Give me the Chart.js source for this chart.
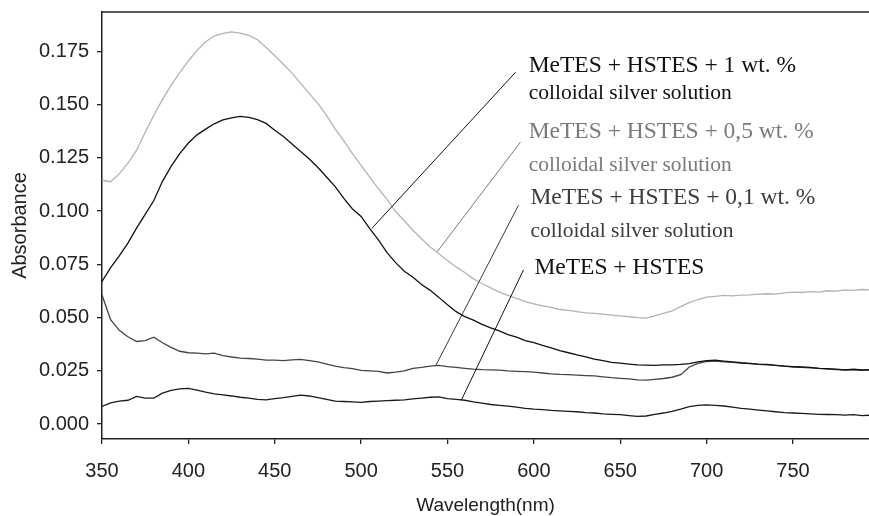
<!DOCTYPE html>
<html>
<head>
<meta charset="utf-8">
<script src="https://cdn.jsdelivr.net/npm/chart.js@4.4.1/dist/chart.umd.min.js"></script>
<style>
  html, body { margin: 0; padding: 0; background: #fff; }
</style>
</head>
<body>
<canvas id="chart" width="869" height="516"></canvas>
<script>
// wavelength (nm), read every 5 nm
const wavelength = [
  350, 355, 360, 365, 370, 375, 380, 385, 390, 395,
  400, 405, 410, 415, 420, 425, 430, 435, 440, 445,
  450, 455, 460, 465, 470, 475, 480, 485, 490, 495,
  500, 505, 510, 515, 520, 525, 530, 535, 540, 545,
  550, 555, 560, 565, 570, 575, 580, 585, 590, 595,
  600, 605, 610, 615, 620, 625, 630, 635, 640, 645,
  650, 655, 660, 665, 670, 675, 680, 685, 690, 695,
  700, 705, 710, 715, 720, 725, 730, 735, 740, 745,
  750, 755, 760, 765, 770, 775, 780, 785, 790, 795
];

// MeTES + HSTES + 0,5 wt. % (light grey curve)
const silver05 = [
  0.1145, 0.1138, 0.1175, 0.1225, 0.1285, 0.1370, 0.1450, 0.1525, 0.1590, 0.1650,
  0.1705, 0.1755, 0.1795, 0.1822, 0.1835, 0.1842, 0.1836, 0.1825, 0.1805, 0.1768,
  0.1730, 0.1690, 0.1648, 0.1600, 0.1552, 0.1505, 0.1450, 0.1385, 0.1330, 0.1270,
  0.1215, 0.1160, 0.1105, 0.1055, 0.0998, 0.0955, 0.0910, 0.0870, 0.0832, 0.0800,
  0.0768, 0.0738, 0.0712, 0.0682, 0.0660, 0.0640, 0.0620, 0.0604, 0.0590, 0.0575,
  0.0565, 0.0555, 0.0548, 0.0538, 0.0534, 0.0528, 0.0522, 0.0520, 0.0516, 0.0512,
  0.0508, 0.0504, 0.0500, 0.0498, 0.0508, 0.0520, 0.0532, 0.0552, 0.0570, 0.0585,
  0.0596, 0.0600, 0.0604, 0.0602, 0.0606, 0.0607, 0.0610, 0.0612, 0.0610, 0.0616,
  0.0620, 0.0618, 0.0622, 0.0620, 0.0626, 0.0624, 0.0630, 0.0628, 0.0632, 0.0630
];

// MeTES + HSTES + 1 wt. % (black peak curve)
const silver1 = [
  0.0670, 0.0735, 0.0790, 0.0850, 0.0920, 0.0985, 0.1050, 0.1140, 0.1210, 0.1270,
  0.1320, 0.1358, 0.1385, 0.1410, 0.1428, 0.1438, 0.1445, 0.1440, 0.1430, 0.1412,
  0.1380, 0.1350, 0.1315, 0.1280, 0.1245, 0.1205, 0.1160, 0.1115, 0.1060, 0.1010,
  0.0975, 0.0918, 0.0865, 0.0805, 0.0758, 0.0718, 0.0690, 0.0655, 0.0628, 0.0595,
  0.0560, 0.0528, 0.0505, 0.0488, 0.0468, 0.0452, 0.0438, 0.0420, 0.0408, 0.0392,
  0.0382, 0.0370, 0.0358, 0.0345, 0.0335, 0.0325, 0.0316, 0.0305, 0.0298, 0.0290,
  0.0286, 0.0282, 0.0278, 0.0277, 0.0276, 0.0278, 0.0278, 0.0280, 0.0284, 0.0292,
  0.0298, 0.0300, 0.0296, 0.0292, 0.0288, 0.0285, 0.0282, 0.0280, 0.0276, 0.0272,
  0.0270, 0.0268, 0.0266, 0.0262, 0.0260, 0.0258, 0.0255, 0.0258, 0.0254, 0.0256
];

// MeTES + HSTES + 0,1 wt. % (dark grey curve)
const silver01 = [
  0.0606, 0.0490, 0.0440, 0.0410, 0.0388, 0.0392, 0.0408, 0.0382, 0.0360, 0.0342,
  0.0335, 0.0333, 0.0330, 0.0333, 0.0322, 0.0315, 0.0310, 0.0308, 0.0305, 0.0300,
  0.0300, 0.0298, 0.0302, 0.0304, 0.0298, 0.0292, 0.0282, 0.0272, 0.0265, 0.0260,
  0.0252, 0.0250, 0.0248, 0.0240, 0.0244, 0.0250, 0.0262, 0.0266, 0.0272, 0.0276,
  0.0270, 0.0266, 0.0262, 0.0258, 0.0256, 0.0255, 0.0253, 0.0250, 0.0248, 0.0246,
  0.0244, 0.0240, 0.0236, 0.0233, 0.0232, 0.0230, 0.0228, 0.0226, 0.0222, 0.0218,
  0.0215, 0.0212, 0.0208, 0.0206, 0.0210, 0.0214, 0.0220, 0.0232, 0.0268, 0.0285,
  0.0294, 0.0296, 0.0292, 0.0290, 0.0286, 0.0284, 0.0280, 0.0278, 0.0276, 0.0272,
  0.0268, 0.0266, 0.0264, 0.0262, 0.0258, 0.0256, 0.0254, 0.0255, 0.0252, 0.0254
];

// MeTES + HSTES (bottom curve)
const base = [
  0.0083, 0.0100, 0.0108, 0.0112, 0.0130, 0.0122, 0.0122, 0.0145, 0.0158, 0.0165,
  0.0168, 0.0160, 0.0150, 0.0142, 0.0137, 0.0132, 0.0126, 0.0122, 0.0116, 0.0114,
  0.0120, 0.0124, 0.0130, 0.0136, 0.0132, 0.0124, 0.0116, 0.0108, 0.0106, 0.0104,
  0.0102, 0.0106, 0.0108, 0.0110, 0.0112, 0.0114, 0.0118, 0.0122, 0.0126, 0.0128,
  0.0120, 0.0116, 0.0112, 0.0104, 0.0098, 0.0092, 0.0088, 0.0084, 0.0080, 0.0074,
  0.0070, 0.0068, 0.0064, 0.0062, 0.0060, 0.0058, 0.0054, 0.0052, 0.0048, 0.0046,
  0.0044, 0.0040, 0.0036, 0.0038, 0.0046, 0.0052, 0.0060, 0.0070, 0.0082, 0.0088,
  0.0090, 0.0088, 0.0085, 0.0080, 0.0074, 0.0070, 0.0066, 0.0062, 0.0058, 0.0054,
  0.0052, 0.0050, 0.0048, 0.0046, 0.0045, 0.0044, 0.0042, 0.0044, 0.0040, 0.0042
];

// labels written on the plot, with leader line to their curve (data units)
const notes = [
  { lines: ["MeTES + HSTES + 1 wt. %", "colloidal silver solution"], at: [597, 0.1652, 0.1525],
    color: "#111", from: [589.4, 0.1652], to: [506.2, 0.0919] },
  { lines: ["MeTES + HSTES + 0,5 wt. %", "colloidal silver solution"], at: [597, 0.1342, 0.1187],
    color: "#7a7a7a", from: [592.3, 0.1325], to: [544.1, 0.0810] },
  { lines: ["MeTES + HSTES + 0,1 wt. %", "colloidal silver solution"], at: [598, 0.1033, 0.0878],
    color: "#3c3c3c", from: [591.1, 0.1028], to: [543.1, 0.0273] },
  { lines: ["MeTES + HSTES"], at: [600.3, 0.0704],
    color: "#111", from: [594, 0.0724], to: [558.1, 0.0114] }
];

const pts = arr => wavelength.map((w, i) => ({ x: w, y: arr[i] }));

const axisFont = { family: "'Liberation Sans', Arial, sans-serif", size: 20, lineHeight: 1 };

const frameAndNotes = {
  id: "frameAndNotes",
  afterDatasetsDraw(chart) {
    const { ctx, chartArea, scales } = chart;
    const sx = scales.x, sy = scales.y;
    ctx.save();
    // top border of plot frame
    ctx.strokeStyle = "#222";
    ctx.lineWidth = 1.5;
    ctx.beginPath();
    ctx.moveTo(chartArea.left, chartArea.top);
    ctx.lineTo(chartArea.right, chartArea.top);
    ctx.stroke();

    notes.forEach(n => {
      ctx.strokeStyle = n.color;
      ctx.lineWidth = 1;
      ctx.beginPath();
      ctx.moveTo(sx.getPixelForValue(n.from[0]), sy.getPixelForValue(n.from[1]));
      ctx.lineTo(sx.getPixelForValue(n.to[0]), sy.getPixelForValue(n.to[1]));
      ctx.stroke();

      ctx.fillStyle = n.color;
      ctx.textBaseline = "alphabetic";
      ctx.textAlign = "left";
      n.lines.forEach((t, i) => {
        ctx.font = (i === 0 ? "23.5px" : "21.5px") + " 'Liberation Serif', 'Times New Roman', serif";
        ctx.fillText(t, sx.getPixelForValue(n.at[0]), sy.getPixelForValue(n.at[i + 1]));
      });
    });
    ctx.restore();
  }
};

new Chart(document.getElementById("chart"), {
  type: "line",
  data: {
    datasets: [
      { label: "MeTES + HSTES + 0,5 wt. %", data: pts(silver05), borderColor: "#b3b3b3" },
      { label: "MeTES + HSTES + 1 wt. %", data: pts(silver1), borderColor: "#111" },
      { label: "MeTES + HSTES + 0,1 wt. %", data: pts(silver01), borderColor: "#444" },
      { label: "MeTES + HSTES", data: pts(base), borderColor: "#1a1a1a" }
    ]
  },
  options: {
    responsive: false,
    animation: false,
    layout: { padding: { top: 12, right: 0, left: 0, bottom: 0 } },
    elements: {
      line: { borderWidth: 1.3, tension: 0 },
      point: { radius: 0 }
    },
    plugins: {
      legend: { display: false },
      tooltip: { enabled: false }
    },
    scales: {
      x: {
        type: "linear",
        min: 350,
        max: 794,
        afterBuildTicks: s => { s.ticks = s.ticks.filter(t => t.value % 50 === 0 && t.value >= 350 && t.value <= 794); },
        afterFit: s => { s.height = 77; s.paddingLeft = 0; s.paddingRight = 0; },
        ticks: { stepSize: 50, includeBounds: false, color: "#222", font: axisFont, padding: 17, maxRotation: 0 },
        grid: { drawOnChartArea: false, tickLength: 5, color: "#222", lineWidth: 1.3 },
        border: { color: "#222", width: 1.5 },
        title: {
          display: true, text: "Wavelength(nm)", color: "#222",
          font: { family: "'Liberation Sans', Arial, sans-serif", size: 19, lineHeight: 1 },
          padding: { top: 0, bottom: 1 }
        }
      },
      y: {
        min: -0.007,
        max: 0.1935,
        afterBuildTicks: s => {
          s.ticks = s.ticks.filter(t => t.value >= -1e-9 && t.value <= 0.1935 &&
            Math.abs(t.value / 0.025 - Math.round(t.value / 0.025)) < 1e-6);
        },
        afterFit: s => { s.width = 102; s.paddingTop = 0; s.paddingBottom = 0; },
        ticks: { stepSize: 0.025, includeBounds: false, color: "#222", font: axisFont, padding: 8, callback: v => v.toFixed(3) },
        grid: { drawOnChartArea: false, tickLength: 5, color: "#222", lineWidth: 1.3 },
        border: { color: "#222", width: 1.5 },
        title: {
          display: true, text: "Absorbance", color: "#222",
          font: { family: "'Liberation Sans', Arial, sans-serif", size: 20, lineHeight: 1 },
          padding: { top: 10, bottom: 0 }
        }
      }
    }
  },
  plugins: [frameAndNotes]
});
</script>
</body>
</html>
